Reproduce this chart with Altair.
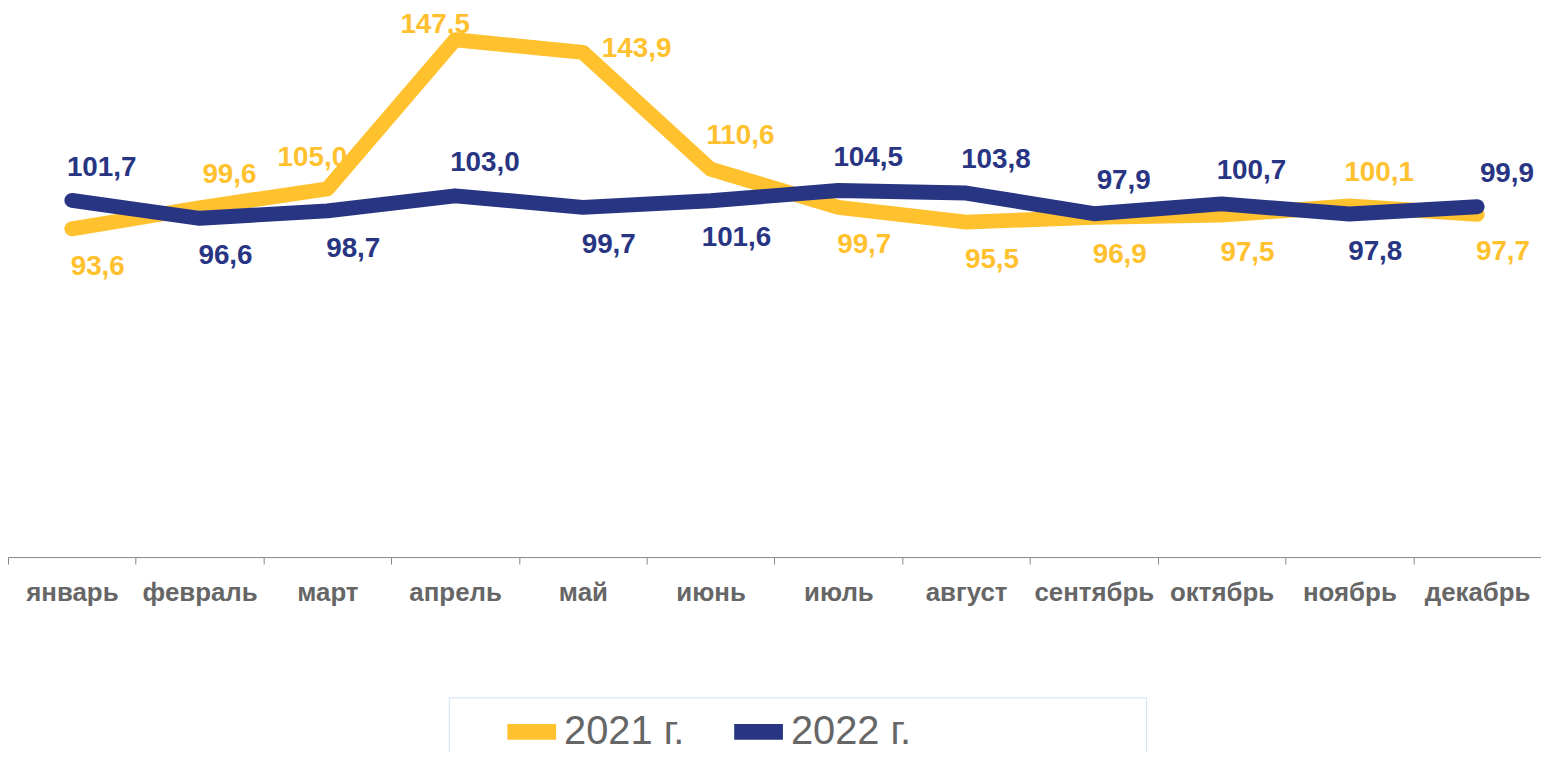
import altair as alt
import pandas as pd

months = ["январь", "февраль", "март", "апрель", "май", "июнь",
          "июль", "август", "сентябрь", "октябрь", "ноябрь", "декабрь"]
values_2021 = [93.6, 99.6, 105.0, 147.5, 143.9, 110.6, 99.7, 95.5, 96.9, 97.5, 100.1, 97.7]
values_2022 = [101.7, 96.6, 98.7, 103.0, 99.7, 101.6, 104.5, 103.8, 97.9, 100.7, 97.8, 99.9]
series = ["2021 г.", "2022 г."]
# label placement (style) per point
label_pos_2021 = ["below", "above", "aboveleft", "top", "right", "above",
                  "below", "below", "below", "below", "above", "below"]
label_pos_2022 = ["above", "below", "below", "above", "below", "below",
                  "above", "above", "above", "above", "below", "above"]
colors = ["#FFC12E", "#283583"]

rows = []
for name, vals, poss in [(series[0], values_2021, label_pos_2021),
                         (series[1], values_2022, label_pos_2022)]:
    for m, v, p in zip(months, vals, poss):
        rows.append({"month": m, "value": v, "series": name, "pos": p,
                     "label": f"{v:.1f}".replace(".", ",")})
df = pd.DataFrame(rows)

nb = "\u00a0" * 21 + "\u200b"
legend = alt.Legend(
    title="\u00a0", titleOrient="left", titleFontSize=2, titlePadding=49,
    orient="none", legendX=443, legendY=691, direction="horizontal",
    symbolType="stroke", symbolSize=2401, symbolStrokeWidth=16,
    labelFontSize=40, labelFont="Liberation Sans", labelColor="#666666",
    labelOffset=0, columnPadding=18, padding=2, labelLimit=1000,
    strokeColor="#cfe4f7", fillColor="white",
    labelExpr="indexof(datum.label, '2022') >= 0 ? datum.label + '" + nb + "' : datum.label",
)

base = alt.Chart(df).encode(
    x=alt.X("month:N", sort=months,
            scale=alt.Scale(type="band", paddingInner=0, paddingOuter=0),
            axis=alt.Axis(title=None, tickBand="extent", labelAngle=0)),
    y=alt.Y("value:Q", scale=alt.Scale(domain=[0, 156], nice=False, zero=False), axis=None),
    color=alt.Color("series:N", scale=alt.Scale(domain=series, range=colors), legend=legend),
)

lines = base.mark_line(strokeWidth=15, strokeCap="round", strokeJoin="round")

txt = dict(fontSize=28, fontWeight="bold", font="Liberation Sans", baseline="middle", align="center")
def lab(pos, dx, dy):
    return base.mark_text(dx=dx, dy=dy, **txt).encode(text="label:N").transform_filter(alt.datum.pos == pos)

above = lab("above", 30, -33)
below = lab("below", 26, 38)
right = lab("right", 54, -3)
top = lab("top", -20, -15)
aboveleft = lab("aboveleft", -15, -31)

chart = alt.layer(above, below, right, top, aboveleft, lines).properties(
    width=1541, height=550,
    autosize=alt.AutoSizeParams(type="none"),
    padding={"left": 0, "top": 0, "right": 0, "bottom": 194},
).configure_view(stroke=None).configure_axis(
    domainColor="#888888", tickColor="#888888", tickSize=7, domainWidth=1,
    labelFont="Liberation Sans", labelFontWeight="bold", labelFontSize=26,
    labelColor="#666666", labelPadding=16, grid=False,
)

chart.save("out.html", embed_options={"renderer": "svg", "actions": False})
